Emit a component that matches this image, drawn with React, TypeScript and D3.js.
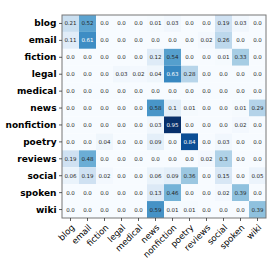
import React from "react";
import * as d3 from "d3";

const categories = ["blog", "email", "fiction", "legal", "medical", "news", "nonfiction", "poetry", "reviews", "social", "spoken", "wiki"];

const rowBlog = [0.21, 0.52, 0.0, 0.0, 0.0, 0.01, 0.03, 0.0, 0.0, 0.19, 0.03, 0.0];
const rowEmail = [0.11, 0.61, 0.0, 0.0, 0.0, 0.0, 0.0, 0.0, 0.02, 0.26, 0.0, 0.0];
const rowFiction = [0.0, 0.0, 0.0, 0.0, 0.0, 0.12, 0.54, 0.0, 0.0, 0.01, 0.33, 0.0];
const rowLegal = [0.0, 0.0, 0.0, 0.03, 0.02, 0.04, 0.63, 0.28, 0.0, 0.0, 0.0, 0.0];
const rowMedical = [0.0, 0.0, 0.0, 0.0, 0.0, 0.0, 0.0, 0.0, 0.0, 0.0, 0.0, 0.0];
const rowNews = [0.0, 0.0, 0.0, 0.0, 0.0, 0.58, 0.1, 0.01, 0.0, 0.0, 0.01, 0.29];
const rowNonfiction = [0.0, 0.0, 0.0, 0.0, 0.0, 0.03, 0.95, 0.0, 0.0, 0.0, 0.02, 0.0];
const rowPoetry = [0.0, 0.0, 0.04, 0.0, 0.0, 0.09, 0.0, 0.84, 0.0, 0.03, 0.0, 0.0];
const rowReviews = [0.19, 0.48, 0.0, 0.0, 0.0, 0.0, 0.0, 0.0, 0.02, 0.3, 0.0, 0.0];
const rowSocial = [0.06, 0.19, 0.02, 0.0, 0.0, 0.06, 0.09, 0.36, 0.0, 0.15, 0.0, 0.05];
const rowSpoken = [0.0, 0.0, 0.0, 0.0, 0.0, 0.13, 0.46, 0.0, 0.0, 0.02, 0.39, 0.0];
const rowWiki = [0.0, 0.0, 0.0, 0.0, 0.0, 0.59, 0.01, 0.01, 0.0, 0.0, 0.0, 0.39];

const matrix = [rowBlog, rowEmail, rowFiction, rowLegal, rowMedical, rowNews, rowNonfiction, rowPoetry, rowReviews, rowSocial, rowSpoken, rowWiki];

const fmt = (v: number) => (Number.isInteger(v) ? v.toFixed(1) : String(v));

export default function App() {
  const left = 62, top = 15, right = 266, bottom = 218;
  const x = d3.scaleBand<string>().domain(categories).range([left, right]);
  const y = d3.scaleBand<string>().domain(categories).range([top, bottom]);
  const maxV = d3.max(matrix.flat()) as number;
  const color = d3.scaleSequential(d3.interpolateBlues).domain([0, maxV]);
  const font = "DejaVu Sans, sans-serif";
  return (
    <svg width={273} height={273} style={{ position: "absolute", left: 0, top: 0, background: "#fff" }}>
      {matrix.map((row, i) =>
        row.map((v, j) => (
          <g key={`${i}-${j}`}>
            <rect x={x(categories[j])} y={y(categories[i])} width={x.bandwidth()} height={y.bandwidth()} fill={color(v)} />
            <text
              x={(x(categories[j]) as number) + x.bandwidth() / 2}
              y={(y(categories[i]) as number) + y.bandwidth() / 2}
              textAnchor="middle"
              dominantBaseline="central"
              fontFamily={font}
              fontSize={5.5}
              fill={v > 0.6 ? "#ffffff" : "#262626"}
            >
              {fmt(v)}
            </text>
          </g>
        ))
      )}
      <rect x={left} y={top} width={right - left} height={bottom - top} fill="none" stroke="#777" strokeWidth={1} />
      {categories.map((c) => {
        const cy = (y(c) as number) + y.bandwidth() / 2;
        return (
          <g key={"y" + c}>
            <line x1={left - 3} x2={left} y1={cy} y2={cy} stroke="#333" strokeWidth={0.8} />
            <text x={left - 5.5} y={cy} textAnchor="end" dominantBaseline="central" fontFamily={font} fontWeight="bold" fontSize={9} fill="#000">
              {c}
            </text>
          </g>
        );
      })}
      {categories.map((c) => {
        const cx = (x(c) as number) + x.bandwidth() / 2;
        return (
          <g key={"x" + c}>
            <line x1={cx} x2={cx} y1={bottom} y2={bottom + 3} stroke="#333" strokeWidth={0.8} />
            <text
              transform={`translate(${cx},${bottom + 5.5}) rotate(-45)`}
              textAnchor="end"
              dominantBaseline="hanging"
              fontFamily={font}
              fontSize={8.6}
              fill="#000"
            >
              {c}
            </text>
          </g>
        );
      })}
    </svg>
  );
}
